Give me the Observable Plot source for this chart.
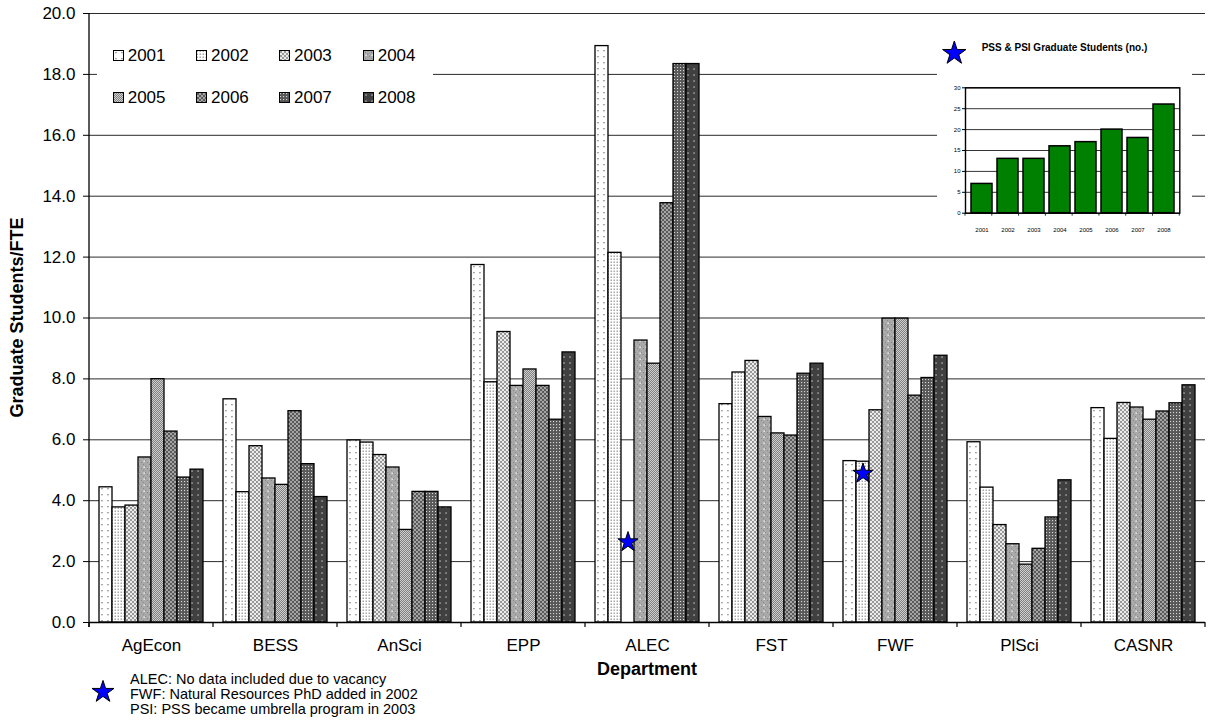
<!DOCTYPE html>
<html><head><meta charset="utf-8">
<script src="https://cdn.jsdelivr.net/npm/d3@7"></script>
<script src="https://cdn.jsdelivr.net/npm/@observablehq/plot@0.6"></script>
<style>
body{margin:0;background:#fff;font-family:"Liberation Sans",Arial,sans-serif;}
#wrap{position:relative;width:1210px;height:725px;overflow:hidden;}
.abs{position:absolute;}
</style></head><body><div id="wrap"></div>
<script>
// ---------- data ----------
const departments = ["AgEcon","BESS","AnSci","EPP","ALEC","FST","FWF","PlSci","CASNR"];
const years = ["2001","2002","2003","2004","2005","2006","2007","2008"];
const agEcon = [4.44,3.78,3.84,5.42,7.99,6.27,4.76,5.02];
const bess   = [7.33,4.28,5.79,4.73,4.52,6.94,5.20,4.12];
const anSci  = [5.98,5.91,5.50,5.09,3.04,4.29,4.29,3.78];
const epp    = [11.74,7.89,9.54,7.77,8.31,7.77,6.66,8.87];
const alec   = [18.93,12.14,null,9.26,8.50,13.77,18.34,18.34];
const fst    = [7.17,8.21,8.59,6.75,6.21,6.14,8.17,8.50];
const fwf    = [5.30,5.28,6.97,9.98,9.98,7.45,8.03,8.76];
const plSci  = [5.92,4.43,3.20,2.57,1.90,2.42,3.45,4.67];
const casnr  = [7.04,6.03,7.21,7.06,6.66,6.93,7.20,7.79];
const seriesByDept = [agEcon,bess,anSci,epp,alec,fst,fwf,plSci,casnr];
const yTicks = [0,2,4,6,8,10,12,14,16,18,20];
const starNotes = [
  {dept:"ALEC", year:"2003", value:2.64},
  {dept:"FWF",  year:"2002", value:4.89}
];
const insetYears = ["2001","2002","2003","2004","2005","2006","2007","2008"];
const insetValues = [7,13,13,16,17,20,18,26];
const insetTicks = [0,5,10,15,20,25,30];
const insetTitle = "PSS & PSI Graduate Students (no.)";
const footnotes = [
  "ALEC: No data included due to vacancy",
  "FWF: Natural Resources PhD added in 2002",
  "PSI: PSS became umbrella program in 2003"
];
const yTitle = "Graduate Students/FTE";
const xTitle = "Department";

// ---------- build ----------
const FONT = "Liberation Sans, Arial, sans-serif";
const rows = departments.flatMap((d,i)=>years.map((y,j)=>({dept:d, year:y, value:seriesByDept[i][j]})))
  .filter(r=>r.value!=null);

const patternDefs = `
<pattern id="pat2001" patternUnits="userSpaceOnUse" width="6" height="6"><rect width="6" height="6" fill="#fff"/><rect x="2.3" y="2" width="1.3" height="1.3" fill="#7a7a7a"/></pattern>
<pattern id="pat2002" patternUnits="userSpaceOnUse" width="3" height="3"><rect width="3" height="3" fill="#fff"/><rect x="0.5" y="0.5" width="1.5" height="1.5" fill="#a8a8a8"/></pattern>
<pattern id="pat2003" patternUnits="userSpaceOnUse" width="4" height="4"><rect width="4" height="4" fill="#ececec"/><path d="M0,0L4,4M4,0L0,4" stroke="#8e8e8e" stroke-width="0.9"/></pattern>
<pattern id="pat2004" patternUnits="userSpaceOnUse" width="6" height="6"><rect width="6" height="6" fill="#a9a9a9"/><rect x="0" y="0" width="1" height="1" fill="#888"/><rect x="2" y="2" width="1" height="1" fill="#888"/><rect x="4" y="4" width="1" height="1" fill="#888"/><rect x="2.5" y="4.5" width="1.3" height="1.3" fill="#fff"/></pattern>
<pattern id="pat2005" patternUnits="userSpaceOnUse" width="2" height="2"><rect width="2" height="2" fill="#cfcfcf"/><rect x="0" y="0" width="1" height="1" fill="#808080"/><rect x="1" y="1" width="1" height="1" fill="#808080"/></pattern>
<pattern id="pat2006" patternUnits="userSpaceOnUse" width="4" height="4"><rect width="4" height="4" fill="#a4a4a4"/><path d="M0,0L4,4M4,0L0,4" stroke="#5a5a5a" stroke-width="1"/></pattern>
<pattern id="pat2007" patternUnits="userSpaceOnUse" width="3" height="3"><rect width="3" height="3" fill="#585858"/><rect x="1" y="1" width="1.1" height="1.1" fill="#d8d8d8"/></pattern>
<pattern id="pat2008" patternUnits="userSpaceOnUse" width="6" height="6"><rect width="6" height="6" fill="#404040"/><rect x="2.4" y="2.4" width="1.3" height="1.3" fill="#c8c8c8"/></pattern>`;

const chart = Plot.plot({
  width:1210, height:725,
  marginLeft:86, marginRight:2.5, marginTop:13, marginBottom:103,
  style:{fontFamily:FONT, fontSize:"17px", color:"#000", background:"#fff", overflow:"visible"},
  fx:{domain:departments, padding:0, label:null},
  x:{domain:years, paddingInner:0, paddingOuter:0.68, axis:null},
  y:{domain:[0,20], label:null},
  color:{type:"ordinal", domain:years, range:years.map(y=>`url(#pat${y})`)},
  marks:[
    Plot.gridY(yTicks,{stroke:"#2a2a2a", strokeOpacity:1, strokeWidth:1}),
    Plot.barY(rows,{fx:"dept", x:"year", y:"value", fill:"year", stroke:"#000", strokeWidth:1.3}),
    Plot.dot(starNotes,{fx:"dept", x:"year", y:"value", symbol:"star", r:6.3, fill:"#0000ff", stroke:"#000", strokeWidth:1}),
    Plot.ruleY([0],{stroke:"#000", strokeWidth:1.3}),
    Plot.axisY(yTicks,{anchor:"left", tickFormat:d=>d.toFixed(1), tickSize:6, tickPadding:8, fontSize:17, label:null}),
    Plot.axisFx({anchor:"bottom", tickSize:0, tickPadding:16, fontSize:17, label:null})
  ]
});

const wrap = document.getElementById("wrap");
wrap.appendChild(chart);
const svg = d3.select(chart);
svg.insert("defs",":first-child").html(patternDefs);

// boundary ticks + left axis line, from the library's scales
const fxS = chart.scale("fx");
const yS = chart.scale("y");
const y0 = yS.apply(0), yTop = yS.apply(20);
const bw = fxS.bandwidth;
const bounds = departments.map(d=>fxS.apply(d)).concat([fxS.apply(departments[departments.length-1])+bw]);
const gAx = svg.append("g");
gAx.selectAll("line.t").data(bounds).join("line")
  .attr("x1",d=>d).attr("x2",d=>d).attr("y1",y0).attr("y2",y0+5)
  .attr("stroke","#000").attr("stroke-width",1.2);
gAx.append("line").attr("x1",bounds[0]).attr("x2",bounds[0]).attr("y1",yTop).attr("y2",y0+5)
  .attr("stroke","#000").attr("stroke-width",1.3);
// titles
svg.append("text").text(yTitle)
  .attr("transform",`translate(17,${(y0+yTop)/2}) rotate(-90)`)
  .attr("text-anchor","middle").attr("dominant-baseline","central")
  .attr("font-family",FONT).attr("font-size",18).attr("font-weight","bold");
svg.append("text").text(xTitle)
  .attr("x",(bounds[0]+bounds[bounds.length-1])/2).attr("y",669)
  .attr("text-anchor","middle").attr("dominant-baseline","central")
  .attr("font-family",FONT).attr("font-size",18).attr("font-weight","bold");

// footnote
const starPath = d3.symbol(d3.symbolStar, 150)();
svg.append("path").attr("d",starPath).attr("transform","translate(103,692)")
  .attr("fill","#0000ff").attr("stroke","#000").attr("stroke-width",1);
svg.append("g").attr("text-anchor","start").selectAll("text").data(footnotes).join("text")
  .attr("x",130).attr("y",(d,i)=>683.5+i*15).attr("text-anchor","start")
  .attr("font-family",FONT).attr("font-size",14.5).text(d=>d);

// ---------- legend (HTML overlay) ----------
const legend = document.createElement("div");
legend.className = "abs";
Object.assign(legend.style,{left:"97px", top:"22px", width:"336px", height:"103px", background:"#fff"});
wrap.appendChild(legend);
years.forEach((y,i)=>{
  const col = i%4, row = Math.floor(i/4);
  const cx = [112.7,196,279,362.7][col] - 97;
  const cy = [55.7,97.7][row] - 22;
  const item = document.createElement("div");
  item.className = "abs";
  Object.assign(item.style,{left:cx+"px", top:(cy-10)+"px", height:"20px", display:"flex", alignItems:"center", fontSize:"17px", fontFamily:FONT, whiteSpace:"nowrap"});
  item.innerHTML = `<svg width="11" height="11" style="margin-right:4px"><rect x="0.5" y="0.5" width="10" height="10" fill="url(#pat${y})" stroke="#000" stroke-width="1"/></svg><span>${y}</span>`;
  legend.appendChild(item);
});

// ---------- inset ----------
const insetBox = document.createElement("div");
insetBox.className = "abs";
Object.assign(insetBox.style,{left:"937px", top:"30px", width:"255px", height:"210px", background:"#fff"});
wrap.appendChild(insetBox);
const insetRows = insetYears.map((y,i)=>({year:y, value:insetValues[i]}));
const inset = Plot.plot({
  width:255, height:210,
  marginLeft:28, marginTop:57.3, marginRight:12.7, marginBottom:27.3,
  style:{fontFamily:FONT, fontSize:"6px", color:"#000", background:"#fff", overflow:"visible"},
  x:{domain:insetYears, paddingInner:0.2, paddingOuter:0.1, label:null},
  y:{domain:[0,30], label:null},
  marks:[
    Plot.gridY(insetTicks,{stroke:"#000", strokeOpacity:1, strokeWidth:0.8}),
    Plot.barY(insetRows,{x:"year", y:"value", fill:"#008000", stroke:"#000", strokeWidth:1.5}),
    Plot.frame({stroke:"#000", strokeWidth:1.4}),
    Plot.axisY(insetTicks,{tickSize:3, tickPadding:2, fontSize:6, label:null}),
    Plot.axisX({tickSize:0, tickPadding:15, fontSize:6, label:null})
  ]
});
insetBox.appendChild(inset);
const isvg = d3.select(inset);
const ixS = inset.scale("x"), iyS = inset.scale("y");
const ir = ixS.range, istep = (ir[1]-ir[0])/insetYears.length;
const ibounds = d3.range(insetYears.length+1).map(k=>ir[0]+k*istep);
isvg.append("g").selectAll("line").data(ibounds).join("line")
  .attr("x1",d=>d).attr("x2",d=>d).attr("y1",iyS.apply(0)).attr("y2",iyS.apply(0)+3)
  .attr("stroke","#000").attr("stroke-width",0.8);
isvg.append("path").attr("d",d3.symbol(d3.symbolStar,170)()).attr("transform","translate(17.3,23.3)")
  .attr("fill","#0000ff").attr("stroke","#000").attr("stroke-width",1);
isvg.append("text").text(insetTitle).attr("x",44.7).attr("y",17.3).attr("text-anchor","start")
  .attr("dominant-baseline","central").attr("font-family",FONT).attr("font-size",10).attr("font-weight","bold");
</script></body></html>
